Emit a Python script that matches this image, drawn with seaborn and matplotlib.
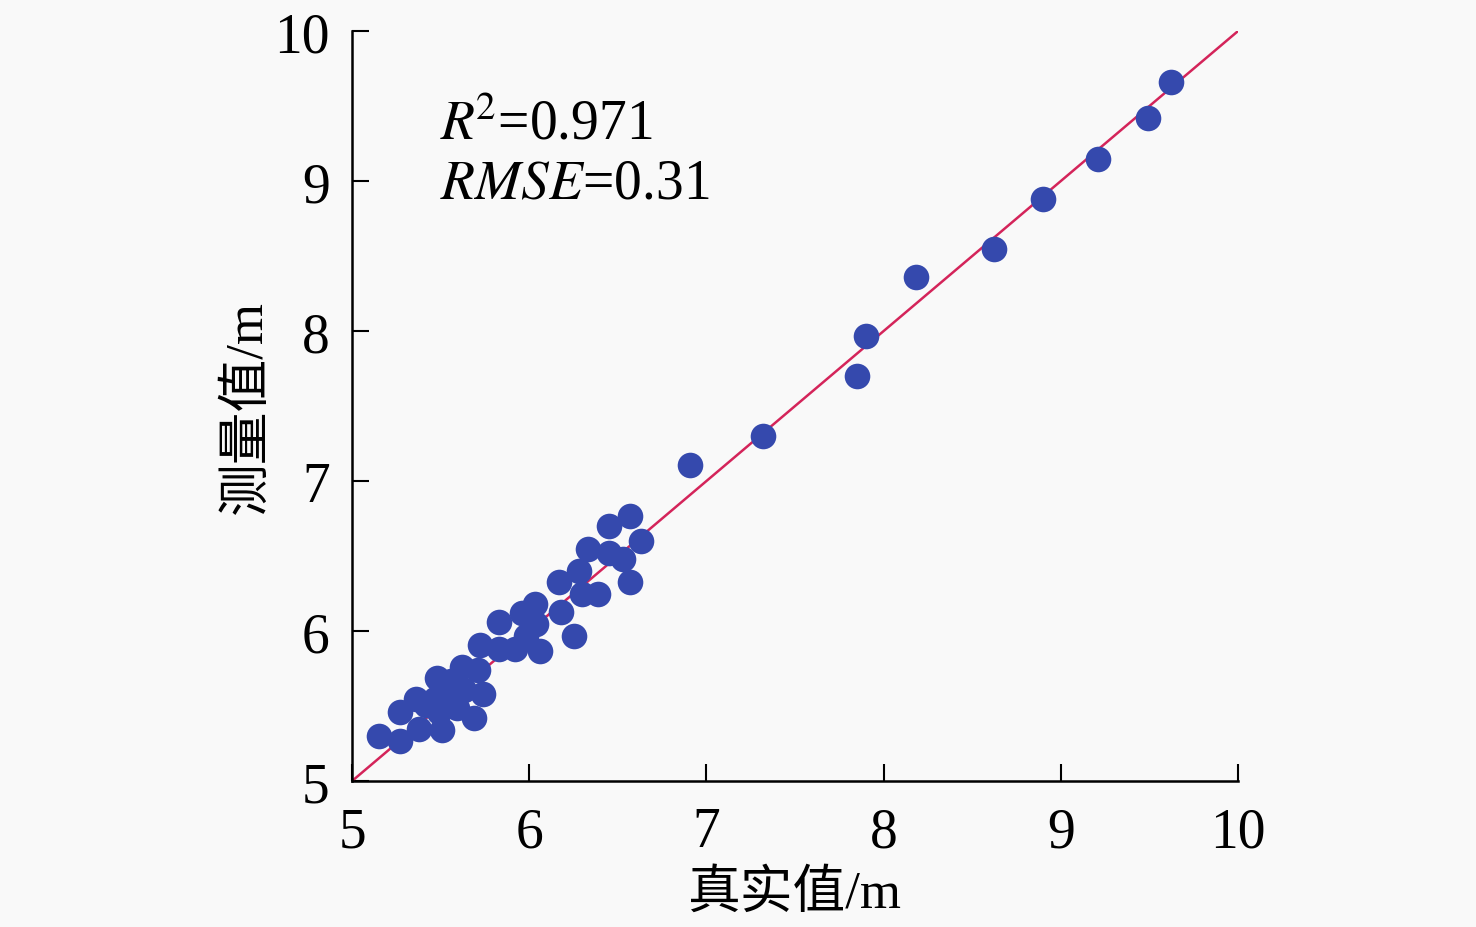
import matplotlib
matplotlib.use("Agg")
import matplotlib.pyplot as plt
import seaborn as sns
import pandas as pd

true_vals = [9.62, 9.49, 9.21, 8.90, 8.62, 8.18, 7.90, 7.85, 7.32, 6.91,
             6.63, 6.57, 6.57, 6.45, 6.45, 6.53, 6.33, 6.28, 6.17, 6.30,
             6.39, 6.25, 6.03, 6.18, 5.96, 5.83, 6.04, 5.98, 5.72, 5.83,
             5.92, 6.06, 5.62, 5.71, 5.48, 5.56, 5.74, 5.36, 5.47, 5.56,
             5.27, 5.49, 5.69, 5.38, 5.51, 5.15, 5.27, 5.63, 5.59, 5.42]
meas_vals = [9.66, 9.42, 9.15, 8.88, 8.55, 8.36, 7.97, 7.70, 7.30, 7.11,
             6.60, 6.77, 6.33, 6.70, 6.52, 6.48, 6.55, 6.40, 6.33, 6.25,
             6.25, 5.97, 6.18, 6.13, 6.12, 6.06, 6.05, 5.97, 5.91, 5.88,
             5.88, 5.87, 5.76, 5.74, 5.69, 5.67, 5.58, 5.55, 5.55, 5.52,
             5.46, 5.46, 5.42, 5.35, 5.34, 5.30, 5.27, 5.61, 5.49, 5.51]
line_xy = [5, 10]
ticks = [5, 6, 7, 8, 9, 10]

df = pd.DataFrame({"true": true_vals, "meas": meas_vals})

sns.set_style("ticks")
plt.rcParams["font.family"] = ["Liberation Serif", "Noto Sans CJK SC"]
plt.rcParams["mathtext.fontset"] = "stix"
plt.rcParams["text.color"] = "black"
plt.rcParams["axes.labelcolor"] = "black"
plt.rcParams["xtick.color"] = "black"
plt.rcParams["ytick.color"] = "black"

fig = plt.figure(figsize=(14.76, 9.28), dpi=100)
fig.patch.set_facecolor("#f9f9f9")
ax = fig.add_axes([0.2385, 0.1573, 0.6003, 0.8082])
ax.set_facecolor("#f9f9f9")

ax.plot(line_xy, line_xy, color="#d4245a", lw=1.8, zorder=1)
sns.scatterplot(data=df, x="true", y="meas", ax=ax, s=340,
                color="#3549ad", edgecolor="#3549ad", linewidth=0, zorder=2)

ax.set_xlim(5, 10)
ax.set_ylim(5, 10)
ax.set_xticks(ticks)
ax.set_yticks(ticks)
ax.tick_params(direction="in", length=12, width=1.5, labelsize=40)
ax.tick_params(axis="x", pad=18)
ax.tick_params(axis="y", pad=16)
for side in ["top", "right"]:
    ax.spines[side].set_visible(False)
for side in ["left", "bottom"]:
    ax.spines[side].set_linewidth(1.8)
    ax.spines[side].set_color("black")

ax.set_xlabel("真实值/m", fontsize=38, labelpad=8)
ax.set_ylabel("测量值/m", fontsize=38, labelpad=2)

ax.text(0.099, 0.876, r"$\mathit{R}^{\!\mathrm{2}}$=0.971", transform=ax.transAxes,
        fontsize=40, va="center")
ax.text(0.099, 0.797, r"$\mathit{RMSE}$=0.31", transform=ax.transAxes,
        fontsize=40, va="center")

fig.savefig("out.png", dpi=100, facecolor=fig.get_facecolor())
